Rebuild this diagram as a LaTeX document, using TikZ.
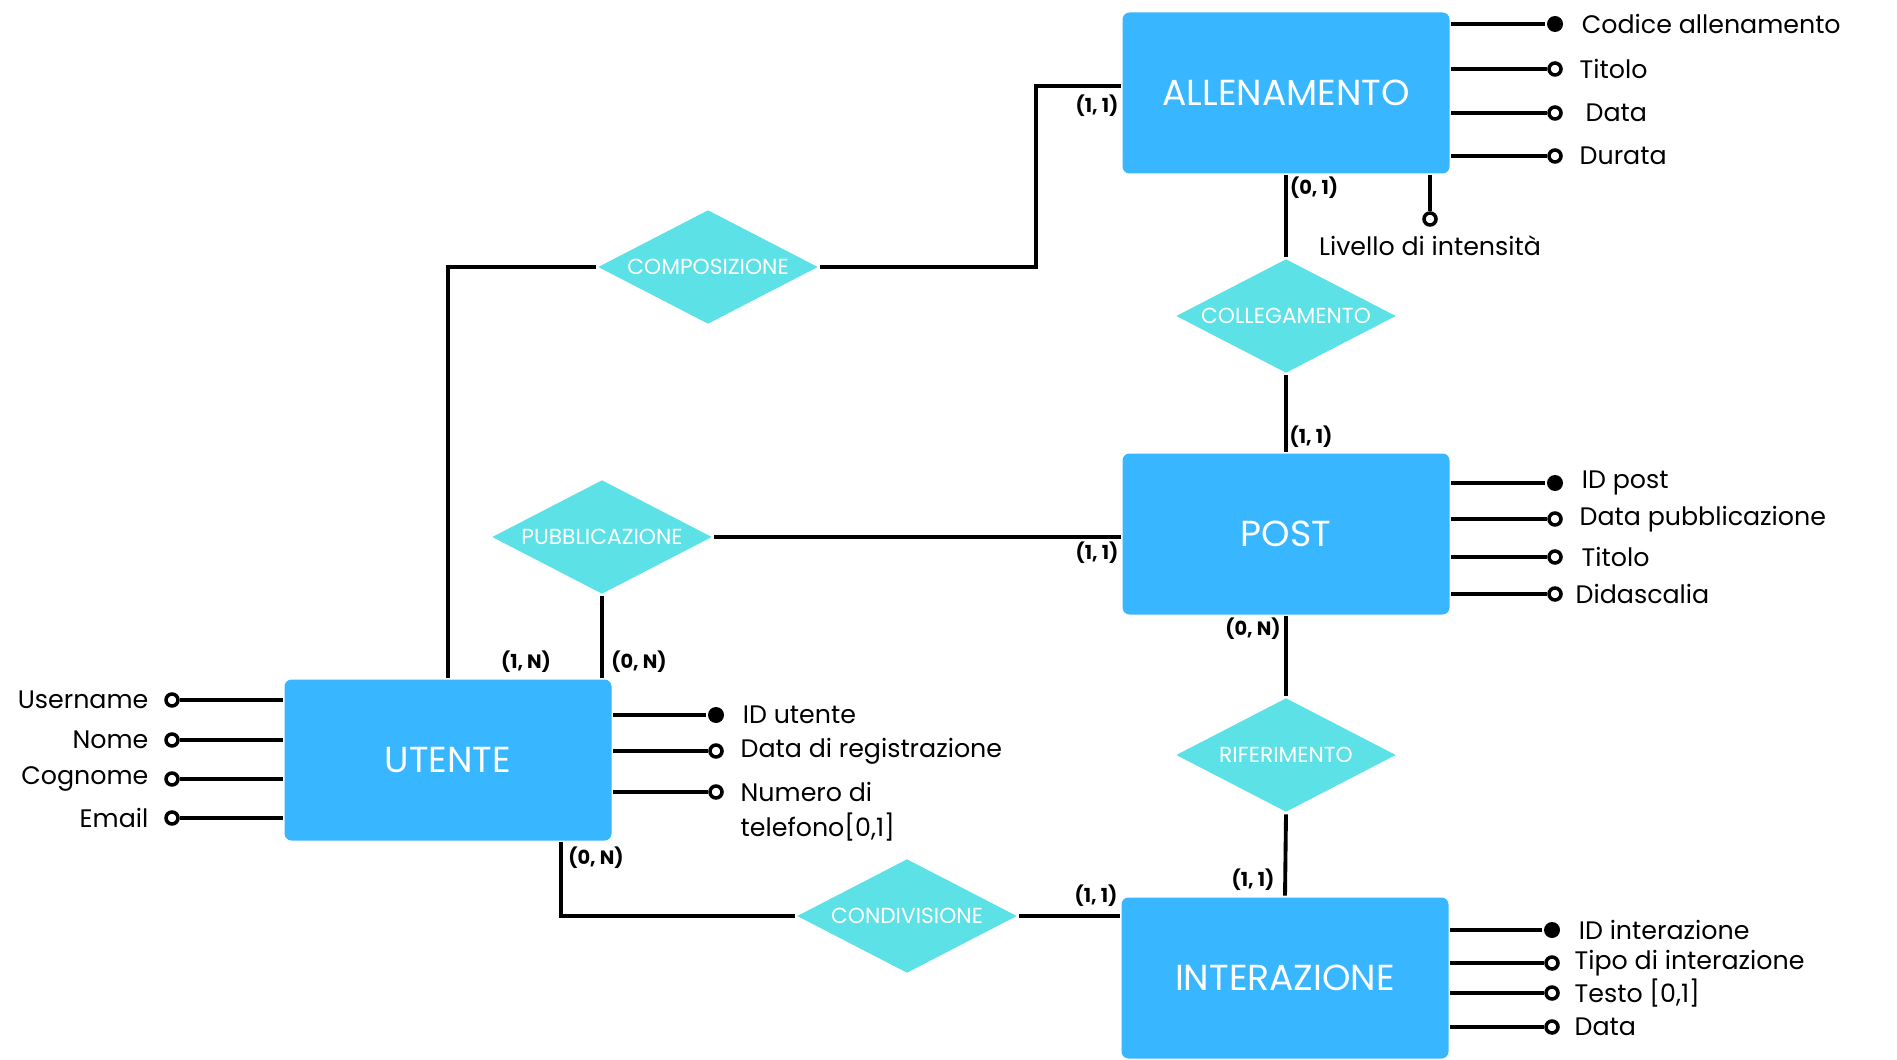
\documentclass[tikz,border=0pt]{standalone}
\usepackage{fontspec}
\setmainfont{Poppins}
\usetikzlibrary{shapes.geometric,positioning}
\definecolor{entityblue}{HTML}{38B6FF}
\definecolor{relcyan}{HTML}{5CE1E6}

\begin{document}
\begin{tikzpicture}[line width=1.1pt, entity/.style={rectangle, rounded corners=2pt, fill=entityblue, text=white, minimum width=3.27cm, minimum height=1.61cm, font=\fontsize{10.3}{12}\selectfont}, relation/.style={diamond, shape aspect=1.92, fill=relcyan, text=white, minimum width=2.21cm, minimum height=1.15cm, inner sep=0pt, font=\fontsize{6.2}{7}\selectfont}, attr/.style={circle, draw, fill=white, line width=1pt, inner sep=0pt, minimum size=0.12cm}, keyattr/.style={circle, fill=black, inner sep=0pt, minimum size=0.16cm}, attrname/.style={font=\fontsize{7.2}{10}\selectfont, inner sep=0pt}, card/.style={font=\bfseries\fontsize{5.5}{7}\selectfont, inner sep=0pt}]

\useasboundingbox (0, 0) rectangle (18.97, -10.60);

\node[entity] (allenamento) at (12.86, -0.93) {ALLENAMENTO};
\node[entity] (post) at (12.86, -5.34) {POST};
\node[entity] (utente) at (4.48, -7.60) {UTENTE};
\node[entity] (interazione) at (12.85, -9.78) {INTERAZIONE};

\node[relation] (composizione) at (7.08, -2.67) {COMPOSIZIONE};
\node[relation] (collegamento) at (12.86, -3.16) {COLLEGAMENTO};
\node[relation] (pubblicazione) at (6.02, -5.37) {PUBBLICAZIONE};
\node[relation] (riferimento) at (12.86, -7.55) {RIFERIMENTO};
\node[relation] (condivisione) at (9.07, -9.16) {CONDIVISIONE};

\coordinate (bendA) at (10.36, -0.86);
\coordinate (bendB) at (5.61, -9.12);

\draw (utente.north) |- (composizione.west);
\draw (composizione.east) -| (bendA) -- (bendA -| allenamento.west);
\draw (allenamento.south) -- (collegamento.north);
\draw (collegamento.south) -- (post.north);
\draw (pubblicazione.east) -- (pubblicazione.east -| post.west);
\draw (pubblicazione.south) -- (pubblicazione.south |- utente.north);
\draw (post.south) -- (riferimento.north);
\draw (riferimento.south) -- (interazione.north);
\draw (bendB |- utente.south) |- (condivisione.west);
\draw (condivisione.east) -- (condivisione.east -| interazione.west);

\node[card] (card1) at (10.97, -1.06) {(1, 1)};
\node[card] (card2) at (13.14, -1.88) {(0, 1)};
\node[card] (card3) at (13.11, -4.37) {(1, 1)};
\node[card] (card4) at (10.97, -5.53) {(1, 1)};
\node[card] (card5) at (5.26, -6.62) {(1, N)};
\node[card] (card6) at (6.39, -6.62) {(0, N)};
\node[card] (card7) at (12.53, -6.29) {(0, N)};
\node[card] (card8) at (12.53, -8.80) {(1, 1)};
\node[card] (card9) at (5.96, -8.58) {(0, N)};
\node[card] (card10) at (10.96, -8.96) {(1, 1)};

% allenamento
\node[keyattr] (al1) at (15.55, -0.24) {};
\node[attr] (al2) at (15.55, -0.69) {};
\node[attr] (al3) at (15.55, -1.13) {};
\node[attr] (al4) at (15.55, -1.56) {};
\node[attr] (al5) at (14.30, -2.19) {};
\node[attrname, right=0.15cm of al1] (al1t) {Codice allenamento};
\node[attrname, right=0.15cm of al2] (al2t) {Titolo};
\node[attrname, right=0.21cm of al3] (al3t) {Data};
\node[attrname, right=0.15cm of al4] (al4t) {Durata};
\node[attrname, below=0.07cm of al5] (al5t) {Livello di intensità};
\draw (al1 -| allenamento.east) -- (al1);
\draw (al2 -| allenamento.east) -- (al2);
\draw (al3 -| allenamento.east) -- (al3);
\draw (al4 -| allenamento.east) -- (al4);
\draw (al5 |- allenamento.south) -- (al5);

% post
\node[keyattr] (po1) at (15.55, -4.83) {};
\node[attr] (po2) at (15.55, -5.19) {};
\node[attr] (po3) at (15.55, -5.57) {};
\node[attr] (po4) at (15.55, -5.94) {};
\node[attrname, right=0.15cm of po1] (po1t) {ID post};
\node[attrname, right=0.15cm of po2] (po2t) {Data pubblicazione};
\node[attrname, right=0.17cm of po3] (po3t) {Titolo};
\node[attrname, right=0.11cm of po4] (po4t) {Didascalia};
\draw (po1 -| post.east) -- (po1);
\draw (po2 -| post.east) -- (po2);
\draw (po3 -| post.east) -- (po3);
\draw (po4 -| post.east) -- (po4);

% utente
\node[attr] (ut1) at (1.72, -7.00) {};
\node[attr] (ut2) at (1.72, -7.40) {};
\node[attr] (ut3) at (1.72, -7.79) {};
\node[attr] (ut4) at (1.72, -8.18) {};
\node[attrname, left=0.14cm of ut1] (ut1t) {Username};
\node[attrname, left=0.14cm of ut2] (ut2t) {Nome};
\node[attrname, left=0.14cm of ut3] (ut3t) {Cognome};
\node[attrname, left=0.14cm of ut4] (ut4t) {Email};
\draw (ut1 -| utente.west) -- (ut1);
\draw (ut2 -| utente.west) -- (ut2);
\draw (ut3 -| utente.west) -- (ut3);
\draw (ut4 -| utente.west) -- (ut4);
\node[keyattr] (ut5) at (7.16, -7.15) {};
\node[attr] (ut6) at (7.16, -7.51) {};
\node[attr] (ut7) at (7.16, -7.92) {};
\node[attrname, right=0.15cm of ut5] (ut5t) {ID utente};
\node[attrname, right=0.15cm of ut6] (ut6t) {Data di registrazione};
\node[attrname, align=left, below right=-0.12cm and 0.15cm of ut7.east] (ut7t) {Numero di\\telefono[0,1]};
\draw (ut5 -| utente.east) -- (ut5);
\draw (ut6 -| utente.east) -- (ut6);
\draw (ut7 -| utente.east) -- (ut7);

% interazione
\node[keyattr] (in1) at (15.52, -9.30) {};
\node[attr] (in2) at (15.52, -9.63) {};
\node[attr] (in3) at (15.52, -9.93) {};
\node[attr] (in4) at (15.52, -10.27) {};
\node[attrname, right=0.15cm of in1] (in1t) {ID interazione};
\node[attrname, right=0.13cm of in2] (in2t) {Tipo di interazione};
\node[attrname, right=0.13cm of in3] (in3t) {Testo [0,1]};
\node[attrname, right=0.13cm of in4] (in4t) {Data};
\draw (in1 -| interazione.east) -- (in1);
\draw (in2 -| interazione.east) -- (in2);
\draw (in3 -| interazione.east) -- (in3);
\draw (in4 -| interazione.east) -- (in4);

\end{tikzpicture}
\end{document}
